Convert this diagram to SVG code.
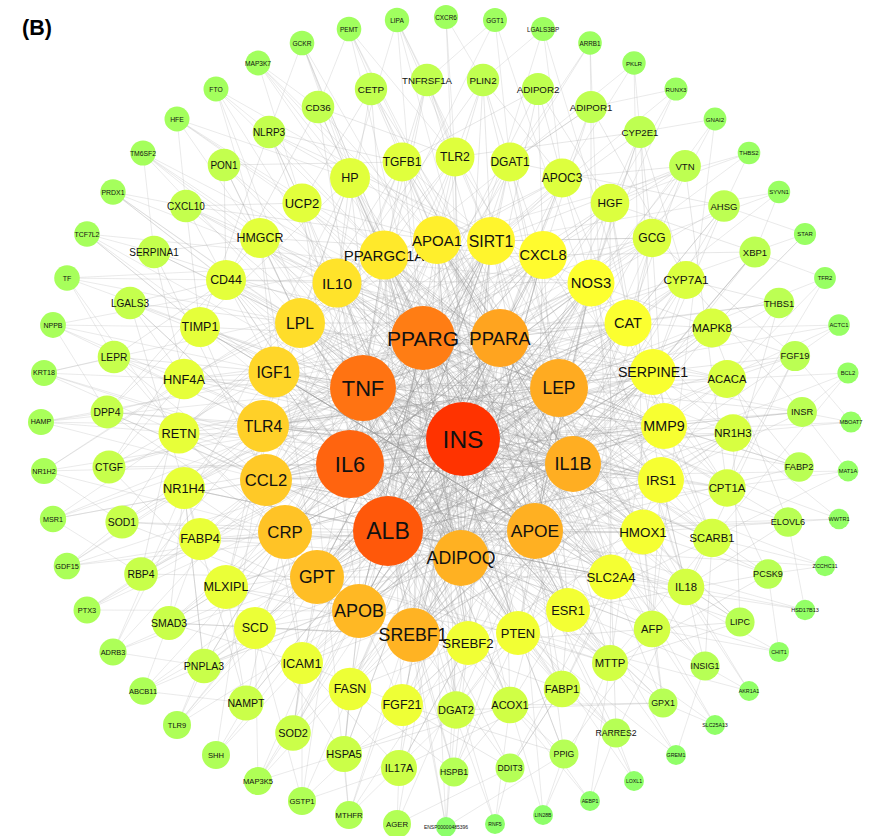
<svg xmlns="http://www.w3.org/2000/svg" width="895" height="836" viewBox="0 0 895 836">
<style>
.n text{font-family:"Liberation Sans",Arial,sans-serif;text-anchor:middle;dominant-baseline:central;fill:#111}
.ec{fill:none;stroke:#909090;stroke-width:0.5;stroke-opacity:0.5}
.em{fill:none;stroke:#a0a0a0;stroke-width:0.5;stroke-opacity:0.5}
.eo{fill:none;stroke:#b8b8b8;stroke-width:0.5;stroke-opacity:0.6}
.lbl{font-family:"Liberation Sans",Arial,sans-serif;font-weight:bold;font-size:21.5px;fill:#000}
</style>
<rect width="895" height="836" fill="#fff"/>
<text class="lbl" x="22" y="35">(B)</text>
<g id="connectors">
<path class="ec" d="M463 439 L300 323 559 388 359 611 500 338 266 480 573 464 384 255 535 531 274 372 463 439 653 372 350 464 543 255 388 531 437 240 461 558 337 283 611 577 363 388 661 480 263 426 500 338 317 577 591 283 350 464 664 426 285 532 423 338 568 610 300 323 643 532 363 388 518 633 384 255 468 643 423 338 413 635 491 241 388 531 628 323 266 480 535 531 437 240 413 635 559 388 263 426 653 372 461 558 491 241 317 577 573 464 337 283 661 480 463 439 285 532 543 255 359 611 500 338 274 372 664 426 388 531 591 283 468 643 363 388 611 577 300 323 535 531 384 255 568 610 350 464 628 323 463 439 518 633 437 240 573 464 266 480 643 532 337 283 461 558 543 255 263 426 423 338 664 426 413 635 559 388 317 577 491 241 468 643 274 372 535 531 653 372 359 611 363 388 568 610 463 439 591 283 266 480 388 531 661 480 384 255 350 464 643 532 437 240 559 388 285 532 611 577 500 338 413 635 628 323 300 323 573 464 359 611 491 241 461 558 664 426 337 283 463 439 317 577 653 372 518 633 363 388 543 255 413 635 535 531 263 426 628 323 423 338 611 577 274 372 573 464 437 240 468 643 350 464 491 241 285 532 559 388 591 283 518 633 388 531 653 372 266 480 463 439 337 283 643 532 500 338 568 610 384 255 461 558 300 323 664 426 423 338 359 611 543 255 535 531 317 577 591 283 363 388 384 255 661 480 388 531 274 372 491 241"/>
<path class="ec" d="M463 439 L388 531 350 464 463 439 363 388 423 338 463 439 500 338 559 388 463 439 573 464 535 531 463 439 461 558 388 531 363 388 500 338 573 464 461 558 350 464 423 338 559 388 535 531 388 531 423 338 573 464 388 531 500 338 535 531 350 464 500 338 461 558 363 388 559 388 461 558 423 338 535 531 363 388 573 464 350 464 559 388 388 531"/>
<path class="ec" d="M266 480 L628 323 388 531 337 283 568 610 500 338 285 532 664 426 350 464 437 240 643 532 423 338 359 611 591 283 535 531 300 323 518 633 363 388 653 372 413 635 573 464 274 372 543 255 461 558 384 255 611 577 463 439 263 426 661 480 559 388 317 577 491 241 568 610 388 531 664 426 337 283 500 338 468 643 266 480 350 464 591 283 359 611 423 338 643 532 274 372 535 531 437 240 285 532 573 464 628 323 413 635 363 388 661 480 300 323 461 558 653 372 263 426 463 439 611 577 491 241 350 464 518 633 384 255 559 388 359 611 628 323 500 338 285 532 643 532 535 531 266 480 543 255 388 531 611 577 437 240 573 464 317 577 653 372 423 338 468 643 300 323 463 439 664 426 274 372 363 388 568 610 543 255 461 558 263 426 591 283 535 531 413 635 661 480 350 464 337 283 518 633 559 388 266 480 437 240 500 338 317 577 611 577 388 531 491 241 263 426 573 464 384 255 413 635"/>
<path class="em" d="M402 705 L463 439 184 379 500 338 652 238 350 464 652 629 423 338 255 628 559 388 260 238 573 464 510 162 388 531 727 379 363 388 562 689 300 323 402 162 535 531 200 539 543 255 727 488 463 439 350 178 611 577 184 488 500 338 510 705 263 426 610 203 461 558 226 280 653 372 302 663 363 388 712 538 384 255 456 710 423 338 200 327 661 480 455 157 350 464 712 328 359 611 302 203 573 464 226 587 491 241 610 663 463 439 179 433 628 323 350 689 500 338 562 178 266 480 686 587 388 531 686 280 317 577 733 433 535 531 260 238 568 610 402 705 559 388 184 379 664 426 456 710 437 240 255 628 463 439 652 238 274 372 562 689 423 338 402 162 643 532 200 539 363 388 510 162 413 635 733 433 350 464 226 280 591 283 652 629 461 558 350 178 518 633 226 587 500 338 727 379 337 283 510 705 573 464 200 327 611 577 610 203 388 531 184 488 543 255 712 538 463 439 455 157 285 532 686 280 535 531 302 663 491 241 686 587 423 338 302 203 468 643 712 328 350 464 610 663 300 323 562 178 463 439 350 689 653 372 727 488 559 388 179 433 384 255 402 705 573 464 226 280 568 610 652 238 363 388 456 710 628 323 200 539 461 558 727 379 263 426 350 178 388 531 652 629 437 240 184 379 535 531 610 203 317 577 260 238 500 338 562 689 661 480 255 628 463 439 733 433 266 480 402 162 350 464 686 587 591 283 350 689 423 338 510 162 611 577 184 488 463 439 712 538 337 283 510 705 363 388 686 280 413 635 302 203 559 388 302 663 643 532 200 327 535 531 610 663 274 372 455 157 461 558 226 587 664 426 562 178 388 531 712 328 359 611 179 433 573 464 727 488 468 643 226 280 463 439 402 705"/>
<path class="em" d="M402 705 L359 611 302 663 285 532 226 587 263 426 184 488 274 372 184 379 300 323 226 280 337 283 302 203 437 240 402 162 491 241 510 162 543 255 610 203 628 323 686 280 653 372 727 379 664 426 727 488 661 480 686 587 611 577 610 663 568 610 510 705 468 643 456 710 518 633 562 689 643 532 652 629 661 480 712 538 653 372 733 433 591 283 712 328 628 323 652 238 491 241 562 178 437 240 455 157 384 255 350 178 300 323 260 238 274 372 200 327 266 480 179 433 285 532 200 539 359 611 255 628 413 635 350 689 468 643 402 705 302 663 266 480 179 433 337 283 350 178 491 241 652 238 664 426 712 538 568 610 562 689 413 635 226 587 300 323 260 238 543 255 610 203 661 480 733 433 518 633 610 663 317 577 184 488"/>
<path class="em" d="M109 467 L200 327 130 303 200 539 141 574 266 480 107 412 260 238 186 206 274 372 114 357 179 433 122 522 285 532 169 623 302 663 293 733 317 577 246 703 184 488 204 666 359 611 344 754 510 705 454 772 518 633 564 754 652 629 663 703 643 532 740 622 733 433 799 467 664 426 802 412 686 280 779 303 628 323 724 206 510 162 591 107 543 255 538 89 402 162 427 80 384 255 318 107 226 280 224 165 300 323 154 252 184 379 130 303 263 426 109 467 226 587 169 623 413 635 399 768 562 689 510 768 611 577 616 733 712 538 705 666 661 480 788 522 712 328 795 356 653 372 755 252 610 203 685 166 491 241 640 132 455 157 483 80 337 283 371 89 302 203 269 132 200 327 186 206 437 240 483 80 562 178 685 166 727 488 768 574 568 610 663 703 456 710 344 754 255 628 204 666 285 532 107 412 350 178 269 132 591 283 640 132 652 238 795 356 686 587 740 622 468 643 399 768"/>
<path class="em" d="M399 768 L463 439 344 754 359 611 293 733 388 531 246 703 285 532 204 666 184 488 169 623 350 464 141 574 263 426 122 522 363 388 109 467 274 372 107 412 463 439 114 357 226 280 130 303 300 323 154 252 423 338 186 206 337 283 224 165 402 162 269 132 363 388 318 107 437 240 371 89 500 338 427 80 491 241 483 80 463 439 538 89 591 283 591 107 686 280 640 132 559 388 685 166 628 323 724 206 573 464 755 252 653 372 779 303 727 488 795 356 463 439 802 412 664 426 799 467 535 531 788 522 643 532 768 574 610 663 740 622 573 464 705 666 568 610 663 703 461 558 616 733 518 633 564 754 402 705 510 768 388 531 454 772 468 643 399 768 302 663 293 733 461 558 204 666 317 577 141 574 184 379 109 467 350 464 114 357 266 480 154 252 260 238 224 165 423 338 318 107 455 157 427 80 350 464 538 89 610 203 640 132 653 372 724 206 500 338 779 303 661 480 802 412 559 388 788 522 686 587 740 622 611 577 663 703 510 705 564 754 535 531 454 772 350 689 344 754 463 439 246 703 226 587 169 623 413 635 122 522 388 531 107 412 263 426 130 303 463 439 186 206 302 203 269 132 384 255 371 89 559 388 483 80 510 162 591 107 463 439 685 166 543 255 755 252 535 531 795 356 727 379 799 467 363 388 768 574 337 283 705 666 423 338 616 733 562 689 510 768 413 635 454 772"/>
<path class="eo" d="M446 17 L463 439 851 422 423 338 446 827 363 388 41 422 500 338 749 153 437 240 715 725 350 464 143 691 559 388 177 119 664 426 543 29 388 531 839 519 300 323 349 815 535 531 53 325 491 241 676 89 461 558 779 652 274 372 216 755 463 439 113 192 733 433 825 278 350 464 590 801 653 372 67 566 423 338 302 43 611 577 590 43 285 532 825 566 363 388 302 801 543 255 67 278 573 464 349 29 510 705 543 815 500 338 53 519 628 323 216 89 388 531 839 325 263 426 676 755 350 178 113 652 491 241 779 192 463 439 397 824 652 238 44 373 535 531 397 20 643 532 634 63 179 433 805 610 461 558 258 781 591 283 87 234 610 663 848 373 317 577 749 691 402 162 177 725 500 338 143 153 686 587 495 20 266 480 848 471 388 531 495 824 337 283 44 471 559 388 258 63 652 629 715 119 359 611 87 610 712 328 805 234 363 388 634 781 384 255"/>
<path class="eo" d="M634 781 L616 733 590 801 510 705 495 824 510 768 397 824 399 768 302 801 302 663 216 755 246 703 143 691 200 539 87 610 141 574 53 519 179 433 41 422 107 412 53 325 200 327 87 234 154 252 143 153 260 238 216 89 269 132 302 43 350 178 397 20 427 80 495 20 510 162 590 43 591 107 676 89 610 203 749 153 724 206 805 234 712 328 839 325 795 356 851 422 733 433 839 519 788 522 805 610 686 587 749 691 705 666 676 755 610 663 543 815 564 754 446 827 456 710 349 815 344 754 258 781 255 628 177 725 204 666 113 652 184 488 67 566 122 522 44 471 184 379 44 373 114 357 67 278 226 280 113 192 186 206 177 119 302 203 258 63 318 107 349 29 455 157 446 17 483 80 543 29 562 178 634 63 640 132 715 119 652 238 779 192 755 252 825 278 727 379 848 373 802 412 848 471 712 538 825 566 768 574 779 652 652 629 715 725 663 703"/>
<path class="eo" d="M87 610 L350 464 53 519 266 480 41 422 263 426 53 325 274 372 87 234 363 388 143 153 337 283 216 89 384 255 302 43 423 338 397 20 491 241 258 781 359 611 177 725 317 577 113 652 388 531 67 566 285 532 44 471 350 464 44 373 179 433 67 278 300 323 113 192 363 388 177 119 350 178 258 63 437 240 349 29 500 338 349 815 413 635 446 827 461 558 143 691 255 628 302 801 468 643"/>
</g>
<g id="nodes" class="n">
<g id="n_AGER"><circle cx="397" cy="824" r="14" fill="#B2FF55"/><text x="397" y="824" font-size="7.8">AGER</text></g>
<g id="n_MTHFR"><circle cx="349" cy="815" r="14" fill="#B1FF55"/><text x="349" y="815" font-size="7.7">MTHFR</text></g>
<g id="n_GSTP1"><circle cx="302" cy="801" r="14" fill="#B0FF56"/><text x="302" y="801" font-size="7.7">GSTP1</text></g>
<g id="n_MAP3K5"><circle cx="258" cy="781" r="14" fill="#AFFF56"/><text x="258" y="781" font-size="7.6">MAP3K5</text></g>
<g id="n_SHH"><circle cx="216" cy="755" r="14" fill="#AFFF57"/><text x="216" y="755" font-size="7.6">SHH</text></g>
<g id="n_TLR9"><circle cx="177" cy="725" r="14" fill="#AEFF57"/><text x="177" y="725" font-size="7.5">TLR9</text></g>
<g id="n_ABCB11"><circle cx="143" cy="691" r="13.8" fill="#ADFF57"/><text x="143" y="691" font-size="7.5">ABCB11</text></g>
<g id="n_ADRB3"><circle cx="113" cy="652" r="13.6" fill="#ADFF58"/><text x="113" y="652" font-size="7.4">ADRB3</text></g>
<g id="n_PTX3"><circle cx="87" cy="610" r="13.5" fill="#ACFF58"/><text x="87" y="610" font-size="7.4">PTX3</text></g>
<g id="n_GDF15"><circle cx="67" cy="566" r="13.3" fill="#ABFF59"/><text x="67" y="566" font-size="7.3">GDF15</text></g>
<g id="n_MSR1"><circle cx="53" cy="519" r="13.2" fill="#ABFF59"/><text x="53" y="519" font-size="7.2">MSR1</text></g>
<g id="n_NR1H2"><circle cx="44" cy="471" r="13.1" fill="#AAFF59"/><text x="44" y="471" font-size="7.2">NR1H2</text></g>
<g id="n_HAMP"><circle cx="41" cy="422" r="13" fill="#A9FF5A"/><text x="41" y="422" font-size="7.1">HAMP</text></g>
<g id="n_KRT18"><circle cx="44" cy="373" r="13" fill="#A8FF5A"/><text x="44" y="373" font-size="7.1">KRT18</text></g>
<g id="n_NPPB"><circle cx="53" cy="325" r="12.9" fill="#A8FF5B"/><text x="53" y="325" font-size="7">NPPB</text></g>
<g id="n_TF"><circle cx="67" cy="278" r="12.8" fill="#A7FF5B"/><text x="67" y="278" font-size="7">TF</text></g>
<g id="n_TCF7L2"><circle cx="87" cy="234" r="12.8" fill="#A6FF5B"/><text x="87" y="234" font-size="6.9">TCF7L2</text></g>
<g id="n_PRDX1"><circle cx="113" cy="192" r="12.7" fill="#A5FF5C"/><text x="113" y="192" font-size="6.9">PRDX1</text></g>
<g id="n_TM6SF2"><circle cx="143" cy="153" r="12.6" fill="#A5FF5C"/><text x="143" y="153" font-size="6.8">TM6SF2</text></g>
<g id="n_HFE"><circle cx="177" cy="119" r="12.5" fill="#A4FF5D"/><text x="177" y="119" font-size="6.8">HFE</text></g>
<g id="n_FTO"><circle cx="216" cy="89" r="12.5" fill="#A3FF5D"/><text x="216" y="89" font-size="6.7">FTO</text></g>
<g id="n_MAP3K7"><circle cx="258" cy="63" r="12.4" fill="#A2FF5E"/><text x="258" y="63" font-size="6.6">MAP3K7</text></g>
<g id="n_GCKR"><circle cx="302" cy="43" r="12.3" fill="#A2FF5E"/><text x="302" y="43" font-size="6.6">GCKR</text></g>
<g id="n_PEMT"><circle cx="349" cy="29" r="12.3" fill="#A1FF5E"/><text x="349" y="29" font-size="6.5">PEMT</text></g>
<g id="n_LIPA"><circle cx="397" cy="20" r="12.2" fill="#A0FF5F"/><text x="397" y="20" font-size="6.5">LIPA</text></g>
<g id="n_CXCR6"><circle cx="446" cy="17" r="12.1" fill="#9FFF5F"/><text x="446" y="17" font-size="6.4">CXCR6</text></g>
<g id="n_GGT1"><circle cx="495" cy="20" r="12" fill="#9FFF60"/><text x="495" y="20" font-size="6.4">GGT1</text></g>
<g id="n_LGALS3BP"><circle cx="543" cy="29" r="12" fill="#9EFF60"/><text x="543" y="29" font-size="6.3">LGALS3BP</text></g>
<g id="n_ARRB1"><circle cx="590" cy="43" r="11.8" fill="#9DFF60"/><text x="590" y="43" font-size="6.3">ARRB1</text></g>
<g id="n_PKLR"><circle cx="634" cy="63" r="11.7" fill="#9CFF61"/><text x="634" y="63" font-size="6.2">PKLR</text></g>
<g id="n_RUNX3"><circle cx="676" cy="89" r="11.5" fill="#9CFF61"/><text x="676" y="89" font-size="6.2">RUNX3</text></g>
<g id="n_GNAI2"><circle cx="715" cy="119" r="11.4" fill="#9BFF62"/><text x="715" y="119" font-size="6.1">GNAI2</text></g>
<g id="n_THBS2"><circle cx="749" cy="153" r="11.3" fill="#9AFF62"/><text x="749" y="153" font-size="6">THBS2</text></g>
<g id="n_SYVN1"><circle cx="779" cy="192" r="11.2" fill="#99FF62"/><text x="779" y="192" font-size="6">SYVN1</text></g>
<g id="n_STAR"><circle cx="805" cy="234" r="11.1" fill="#99FF63"/><text x="805" y="234" font-size="5.9">STAR</text></g>
<g id="n_TFR2"><circle cx="825" cy="278" r="10.9" fill="#98FF63"/><text x="825" y="278" font-size="5.9">TFR2</text></g>
<g id="n_ACTC1"><circle cx="839" cy="325" r="10.8" fill="#97FF64"/><text x="839" y="325" font-size="5.8">ACTC1</text></g>
<g id="n_BCL2"><circle cx="848" cy="373" r="10.6" fill="#96FF64"/><text x="848" y="373" font-size="5.8">BCL2</text></g>
<g id="n_MBOAT7"><circle cx="851" cy="422" r="10.5" fill="#96FF64"/><text x="851" y="422" font-size="5.7">MBOAT7</text></g>
<g id="n_MAT1A"><circle cx="848" cy="471" r="10.4" fill="#95FF65"/><text x="848" y="471" font-size="5.7">MAT1A</text></g>
<g id="n_WWTR1"><circle cx="839" cy="519" r="10.3" fill="#94FF65"/><text x="839" y="519" font-size="5.6">WWTR1</text></g>
<g id="n_ZCCHC11"><circle cx="825" cy="566" r="10.2" fill="#93FF66"/><text x="825" y="566" font-size="5.5">ZCCHC11</text></g>
<g id="n_HSD17B13"><circle cx="805" cy="610" r="10.2" fill="#93FF66"/><text x="805" y="610" font-size="5.5">HSD17B13</text></g>
<g id="n_CHIT1"><circle cx="779" cy="652" r="10.1" fill="#92FF66"/><text x="779" y="652" font-size="5.4">CHIT1</text></g>
<g id="n_AKR1A1"><circle cx="749" cy="691" r="10" fill="#91FF67"/><text x="749" y="691" font-size="5.4">AKR1A1</text></g>
<g id="n_SLC25A13"><circle cx="715" cy="725" r="10" fill="#90FF67"/><text x="715" y="725" font-size="5.3">SLC25A13</text></g>
<g id="n_GREM1"><circle cx="676" cy="755" r="10" fill="#90FF68"/><text x="676" y="755" font-size="5.3">GREM1</text></g>
<g id="n_LOXL1"><circle cx="634" cy="781" r="10" fill="#8FFF68"/><text x="634" y="781" font-size="5.2">LOXL1</text></g>
<g id="n_AEBP1"><circle cx="590" cy="801" r="10" fill="#8EFF69"/><text x="590" y="801" font-size="5.2">AEBP1</text></g>
<g id="n_LIN28B"><circle cx="543" cy="815" r="10" fill="#8DFF69"/><text x="543" y="815" font-size="5.1">LIN28B</text></g>
<g id="n_RNF5"><circle cx="495" cy="824" r="10" fill="#8DFF69"/><text x="495" y="824" font-size="5.1">RNF5</text></g>
<g id="n_ENSP00000485396"><circle cx="446" cy="827" r="10" fill="#8CFF6A"/><text x="446" y="827" font-size="5">ENSP00000485396</text></g>

<g id="n_IL17A"><circle cx="399" cy="768" r="18" fill="#CCFF48"/><text x="399" y="768" font-size="11">IL17A</text></g>
<g id="n_HSPA5"><circle cx="344" cy="754" r="18" fill="#CBFF48"/><text x="344" y="754" font-size="11">HSPA5</text></g>
<g id="n_SOD2"><circle cx="293" cy="733" r="17.8" fill="#CBFF49"/><text x="293" y="733" font-size="10.9">SOD2</text></g>
<g id="n_NAMPT"><circle cx="246" cy="703" r="17.6" fill="#CAFF49"/><text x="246" y="703" font-size="10.6">NAMPT</text></g>
<g id="n_PNPLA3"><circle cx="204" cy="666" r="17.3" fill="#C9FF4A"/><text x="204" y="666" font-size="10.5">PNPLA3</text></g>
<g id="n_SMAD3"><circle cx="169" cy="623" r="17" fill="#C9FF4A"/><text x="169" y="623" font-size="10.5">SMAD3</text></g>
<g id="n_RBP4"><circle cx="141" cy="574" r="16.8" fill="#C8FF4A"/><text x="141" y="574" font-size="10.4">RBP4</text></g>
<g id="n_SOD1"><circle cx="122" cy="522" r="16.6" fill="#C8FF4B"/><text x="122" y="522" font-size="10.4">SOD1</text></g>
<g id="n_CTGF"><circle cx="109" cy="467" r="16.5" fill="#C7FF4B"/><text x="109" y="467" font-size="10.3">CTGF</text></g>
<g id="n_DPP4"><circle cx="107" cy="412" r="16.4" fill="#C6FF4C"/><text x="107" y="412" font-size="10.3">DPP4</text></g>
<g id="n_LEPR"><circle cx="114" cy="357" r="16.3" fill="#C6FF4C"/><text x="114" y="357" font-size="10.2">LEPR</text></g>
<g id="n_LGALS3"><circle cx="130" cy="303" r="16.2" fill="#C5FF4D"/><text x="130" y="303" font-size="10.1">LGALS3</text></g>
<g id="n_SERPINA1"><circle cx="154" cy="252" r="16.2" fill="#C4FF4D"/><text x="154" y="252" font-size="10">SERPINA1</text></g>
<g id="n_CXCL10"><circle cx="186" cy="206" r="16.3" fill="#C4FF4D"/><text x="186" y="206" font-size="10">CXCL10</text></g>
<g id="n_PON1"><circle cx="224" cy="165" r="16.3" fill="#C3FF4E"/><text x="224" y="165" font-size="10">PON1</text></g>
<g id="n_NLRP3"><circle cx="269" cy="132" r="16.3" fill="#C3FF4E"/><text x="269" y="132" font-size="10">NLRP3</text></g>
<g id="n_CD36"><circle cx="318" cy="107" r="16.3" fill="#C2FF4F"/><text x="318" y="107" font-size="9.9">CD36</text></g>
<g id="n_CETP"><circle cx="371" cy="89" r="16.2" fill="#C1FF4F"/><text x="371" y="89" font-size="9.9">CETP</text></g>
<g id="n_TNFRSF1A"><circle cx="427" cy="80" r="16.2" fill="#C1FF4F"/><text x="427" y="80" font-size="9.7">TNFRSF1A</text></g>
<g id="n_PLIN2"><circle cx="483" cy="80" r="16.2" fill="#C0FF50"/><text x="483" y="80" font-size="9.8">PLIN2</text></g>
<g id="n_ADIPOR2"><circle cx="538" cy="89" r="16.1" fill="#BFFF50"/><text x="538" y="89" font-size="9.7">ADIPOR2</text></g>
<g id="n_ADIPOR1"><circle cx="591" cy="107" r="16" fill="#BFFF51"/><text x="591" y="107" font-size="9.7">ADIPOR1</text></g>
<g id="n_CYP2E1"><circle cx="640" cy="132" r="16" fill="#BEFF51"/><text x="640" y="132" font-size="9.6">CYP2E1</text></g>
<g id="n_VTN"><circle cx="685" cy="166" r="15.9" fill="#BEFF51"/><text x="685" y="166" font-size="9.6">VTN</text></g>
<g id="n_AHSG"><circle cx="724" cy="206" r="15.8" fill="#BDFF52"/><text x="724" y="206" font-size="9.5">AHSG</text></g>
<g id="n_XBP1"><circle cx="755" cy="252" r="15.6" fill="#BCFF52"/><text x="755" y="252" font-size="9.5">XBP1</text></g>
<g id="n_THBS1"><circle cx="779" cy="303" r="15.3" fill="#BCFF53"/><text x="779" y="303" font-size="9.4">THBS1</text></g>
<g id="n_FGF19"><circle cx="795" cy="356" r="15.1" fill="#BBFF53"/><text x="795" y="356" font-size="9.3">FGF19</text></g>
<g id="n_INSR"><circle cx="802" cy="412" r="14.9" fill="#BBFF53"/><text x="802" y="412" font-size="9.3">INSR</text></g>
<g id="n_FABP2"><circle cx="799" cy="467" r="14.8" fill="#BAFF54"/><text x="799" y="467" font-size="9.2">FABP2</text></g>
<g id="n_ELOVL6"><circle cx="788" cy="522" r="14.7" fill="#B9FF54"/><text x="788" y="522" font-size="9.1">ELOVL6</text></g>
<g id="n_PCSK9"><circle cx="768" cy="574" r="14.7" fill="#B9FF54"/><text x="768" y="574" font-size="9.1">PCSK9</text></g>
<g id="n_LIPC"><circle cx="740" cy="622" r="14.6" fill="#B8FF54"/><text x="740" y="622" font-size="9">LIPC</text></g>
<g id="n_INSIG1"><circle cx="705" cy="666" r="14.6" fill="#B7FF55"/><text x="705" y="666" font-size="8.9">INSIG1</text></g>
<g id="n_GPX1"><circle cx="663" cy="703" r="14.5" fill="#B7FF55"/><text x="663" y="703" font-size="8.9">GPX1</text></g>
<g id="n_RARRES2"><circle cx="616" cy="733" r="14.5" fill="#B6FF55"/><text x="616" y="733" font-size="8.7">RARRES2</text></g>
<g id="n_PPIG"><circle cx="564" cy="754" r="14.5" fill="#B6FF56"/><text x="564" y="754" font-size="8.7">PPIG</text></g>
<g id="n_DDIT3"><circle cx="510" cy="768" r="14.5" fill="#B5FF56"/><text x="510" y="768" font-size="8.6">DDIT3</text></g>
<g id="n_HSPB1"><circle cx="454" cy="772" r="14.5" fill="#B5FF56"/><text x="454" y="772" font-size="8.6">HSPB1</text></g>

<g id="n_FGF21"><circle cx="402" cy="705" r="21" fill="#EEFF36"/><text x="402" y="705" font-size="12.6">FGF21</text></g>
<g id="n_FASN"><circle cx="350" cy="689" r="21.3" fill="#EDFF36"/><text x="350" y="689" font-size="12.5">FASN</text></g>
<g id="n_ICAM1"><circle cx="302" cy="663" r="21" fill="#ECFF37"/><text x="302" y="663" font-size="12.8">ICAM1</text></g>
<g id="n_SCD"><circle cx="255" cy="628" r="21" fill="#EBFF37"/><text x="255" y="628" font-size="12.6">SCD</text></g>
<g id="n_MLXIPL"><circle cx="226" cy="587" r="22" fill="#EAFF38"/><text x="226" y="587" font-size="12.6">MLXIPL</text></g>
<g id="n_FABP4"><circle cx="200" cy="539" r="21" fill="#E9FF38"/><text x="200" y="539" font-size="12.7">FABP4</text></g>
<g id="n_NR1H4"><circle cx="184" cy="488" r="21" fill="#E8FF39"/><text x="184" y="488" font-size="12.8">NR1H4</text></g>
<g id="n_RETN"><circle cx="179" cy="433" r="20.5" fill="#E7FF39"/><text x="179" y="433" font-size="12.8">RETN</text></g>
<g id="n_HNF4A"><circle cx="184" cy="379" r="20.3" fill="#E6FF3A"/><text x="184" y="379" font-size="12.8">HNF4A</text></g>
<g id="n_TIMP1"><circle cx="200" cy="327" r="20" fill="#E5FF3A"/><text x="200" y="327" font-size="12.5">TIMP1</text></g>
<g id="n_CD44"><circle cx="226" cy="280" r="20" fill="#E4FF3B"/><text x="226" y="280" font-size="12.4">CD44</text></g>
<g id="n_HMGCR"><circle cx="260" cy="238" r="20" fill="#E3FF3B"/><text x="260" y="238" font-size="12.4">HMGCR</text></g>
<g id="n_UCP2"><circle cx="302" cy="203" r="19.6" fill="#E2FF3C"/><text x="302" y="203" font-size="13">UCP2</text></g>
<g id="n_HP"><circle cx="350" cy="178" r="20" fill="#E1FF3C"/><text x="350" y="178" font-size="12.5">HP</text></g>
<g id="n_TGFB1"><circle cx="402" cy="162" r="19.4" fill="#E0FF3D"/><text x="402" y="162" font-size="12">TGFB1</text></g>
<g id="n_TLR2"><circle cx="455" cy="157" r="19.5" fill="#DFFF3D"/><text x="455" y="157" font-size="12.2">TLR2</text></g>
<g id="n_DGAT1"><circle cx="510" cy="162" r="19.5" fill="#DEFF3E"/><text x="510" y="162" font-size="12">DGAT1</text></g>
<g id="n_APOC3"><circle cx="562" cy="178" r="19.5" fill="#DDFF3E"/><text x="562" y="178" font-size="12">APOC3</text></g>
<g id="n_HGF"><circle cx="610" cy="203" r="19.3" fill="#DCFF3F"/><text x="610" y="203" font-size="11.8">HGF</text></g>
<g id="n_GCG"><circle cx="652" cy="238" r="19.3" fill="#DBFF3F"/><text x="652" y="238" font-size="12">GCG</text></g>
<g id="n_CYP7A1"><circle cx="686" cy="280" r="19" fill="#DAFF40"/><text x="686" y="280" font-size="11.8">CYP7A1</text></g>
<g id="n_MAPK8"><circle cx="712" cy="328" r="19.5" fill="#D9FF40"/><text x="712" y="328" font-size="11.8">MAPK8</text></g>
<g id="n_ACACA"><circle cx="727" cy="379" r="19" fill="#D8FF41"/><text x="727" y="379" font-size="11.3">ACACA</text></g>
<g id="n_NR1H3"><circle cx="733" cy="433" r="18.7" fill="#D7FF41"/><text x="733" y="433" font-size="11.4">NR1H3</text></g>
<g id="n_CPT1A"><circle cx="727" cy="488" r="18.7" fill="#D6FF42"/><text x="727" y="488" font-size="11.4">CPT1A</text></g>
<g id="n_SCARB1"><circle cx="712" cy="538" r="19.3" fill="#D5FF42"/><text x="712" y="538" font-size="11.2">SCARB1</text></g>
<g id="n_IL18"><circle cx="686" cy="587" r="18.3" fill="#D4FF43"/><text x="686" y="587" font-size="11.3">IL18</text></g>
<g id="n_AFP"><circle cx="652" cy="629" r="18.3" fill="#D3FF43"/><text x="652" y="629" font-size="11.2">AFP</text></g>
<g id="n_MTTP"><circle cx="610" cy="663" r="18" fill="#D2FF44"/><text x="610" y="663" font-size="11.3">MTTP</text></g>
<g id="n_FABP1"><circle cx="562" cy="689" r="18.3" fill="#D1FF44"/><text x="562" y="689" font-size="11.1">FABP1</text></g>
<g id="n_ACOX1"><circle cx="510" cy="705" r="18.3" fill="#D0FF45"/><text x="510" y="705" font-size="11">ACOX1</text></g>
<g id="n_DGAT2"><circle cx="456" cy="710" r="18.8" fill="#CFFF45"/><text x="456" y="710" font-size="11">DGAT2</text></g>

<g id="n_SREBF1"><circle cx="413" cy="635" r="27" fill="#FFB323"/><text x="413" y="635" font-size="17.7">SREBF1</text></g>
<g id="n_APOB"><circle cx="359" cy="611" r="27" fill="#FFB824"/><text x="359" y="611" font-size="18">APOB</text></g>
<g id="n_GPT"><circle cx="317" cy="577" r="27" fill="#FFBE25"/><text x="317" y="577" font-size="17.5">GPT</text></g>
<g id="n_CRP"><circle cx="285" cy="532" r="27" fill="#FFC326"/><text x="285" y="532" font-size="16.8">CRP</text></g>
<g id="n_CCL2"><circle cx="266" cy="480" r="26" fill="#FFC927"/><text x="266" y="480" font-size="16.6">CCL2</text></g>
<g id="n_TLR4"><circle cx="263" cy="426" r="26" fill="#FFD028"/><text x="263" y="426" font-size="15.8">TLR4</text></g>
<g id="n_IGF1"><circle cx="274" cy="372" r="25.5" fill="#FFD629"/><text x="274" y="372" font-size="15.8">IGF1</text></g>
<g id="n_LPL"><circle cx="300" cy="323" r="25" fill="#FFDD2A"/><text x="300" y="323" font-size="15.7">LPL</text></g>
<g id="n_IL10"><circle cx="337" cy="283" r="24.5" fill="#FFE32A"/><text x="337" y="283" font-size="15.4">IL10</text></g>
<g id="n_PPARGC1A"><circle cx="384" cy="255" r="24.5" fill="#FFE92B"/><text x="384" y="255" font-size="15">PPARGC1A</text></g>
<g id="n_APOA1"><circle cx="437" cy="240" r="24" fill="#FFEF2C"/><text x="437" y="240" font-size="15">APOA1</text></g>
<g id="n_SIRT1"><circle cx="491" cy="241" r="24" fill="#FFF52D"/><text x="491" y="241" font-size="15.8">SIRT1</text></g>
<g id="n_CXCL8"><circle cx="543" cy="255" r="24" fill="#FFFB2E"/><text x="543" y="255" font-size="14.6">CXCL8</text></g>
<g id="n_NOS3"><circle cx="591" cy="283" r="23.5" fill="#FDFF2F"/><text x="591" y="283" font-size="14.8">NOS3</text></g>
<g id="n_CAT"><circle cx="628" cy="323" r="23.5" fill="#FBFF30"/><text x="628" y="323" font-size="14.5">CAT</text></g>
<g id="n_SERPINE1"><circle cx="653" cy="372" r="23" fill="#F9FF30"/><text x="653" y="372" font-size="14.2">SERPINE1</text></g>
<g id="n_MMP9"><circle cx="664" cy="426" r="23" fill="#F7FF31"/><text x="664" y="426" font-size="14.3">MMP9</text></g>
<g id="n_IRS1"><circle cx="661" cy="480" r="23" fill="#F6FF32"/><text x="661" y="480" font-size="13.6">IRS1</text></g>
<g id="n_HMOX1"><circle cx="643" cy="532" r="22.5" fill="#F5FF33"/><text x="643" y="532" font-size="13.4">HMOX1</text></g>
<g id="n_SLC2A4"><circle cx="611" cy="577" r="22.5" fill="#F4FF33"/><text x="611" y="577" font-size="13.2">SLC2A4</text></g>
<g id="n_ESR1"><circle cx="568" cy="610" r="22" fill="#F3FF34"/><text x="568" y="610" font-size="12.9">ESR1</text></g>
<g id="n_PTEN"><circle cx="518" cy="633" r="22" fill="#F2FF34"/><text x="518" y="633" font-size="12.9">PTEN</text></g>
<g id="n_SREBF2"><circle cx="468" cy="643" r="22" fill="#F1FF35"/><text x="468" y="643" font-size="13.2">SREBF2</text></g>

<g id="n_ALB"><circle cx="388" cy="531" r="35" fill="#FF580A"/><text x="388" y="531" font-size="23">ALB</text></g>
<g id="n_IL6"><circle cx="350" cy="464" r="34" fill="#FF640F"/><text x="350" y="464" font-size="21.8">IL6</text></g>
<g id="n_TNF"><circle cx="363" cy="388" r="33" fill="#FF7312"/><text x="363" y="388" font-size="21.8">TNF</text></g>
<g id="n_PPARG"><circle cx="423" cy="338" r="32" fill="#FF7D14"/><text x="423" y="338" font-size="21">PPARG</text></g>
<g id="n_PPARA"><circle cx="500" cy="338" r="29" fill="#FFA41F"/><text x="500" y="338" font-size="18.5">PPARA</text></g>
<g id="n_LEP"><circle cx="559" cy="388" r="29" fill="#FFAB21"/><text x="559" y="388" font-size="17.5">LEP</text></g>
<g id="n_IL1B"><circle cx="573" cy="464" r="28" fill="#FFAE22"/><text x="573" y="464" font-size="18">IL1B</text></g>
<g id="n_APOE"><circle cx="535" cy="531" r="28" fill="#FFB022"/><text x="535" y="531" font-size="17.4">APOE</text></g>
<g id="n_ADIPOQ"><circle cx="461" cy="558" r="28" fill="#FFB122"/><text x="461" y="558" font-size="17.7">ADIPOQ</text></g>
<g id="n_INS"><circle cx="463" cy="439" r="37" fill="#FF3300"/><text x="463" y="439" font-size="24.5">INS</text></g>
</g>
</svg>
